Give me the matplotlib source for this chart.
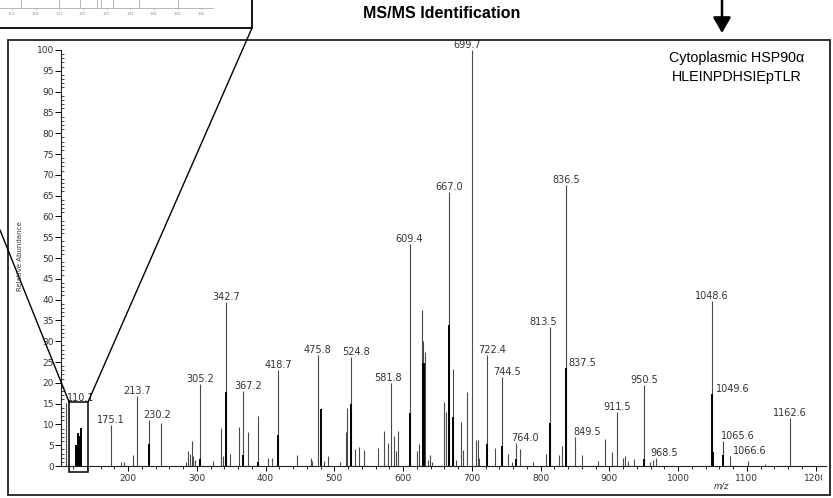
import matplotlib
matplotlib.use('Agg')
import matplotlib.pyplot as plt
from matplotlib.patches import Rectangle, ConnectionPatch
from matplotlib.ticker import MultipleLocator
from matplotlib.transforms import Bbox

# thin grey sticks (m/z, relative abundance)
peak_mz = [110.1, 175.1, 189.4, 194.0, 207.8, 213.7, 230.2, 248.0, 284.4, 287.8,
           290.0, 292.6, 295.0, 297.5, 305.2, 323.0, 335.3, 338.7, 341.0, 342.7,
           348.4, 361.9, 367.2, 375.0, 389.5, 404.0, 409.0, 418.7, 446.0, 466.0,
           468.0, 475.8, 485.0, 490.4, 508.4, 516.6, 518.0, 524.8, 530.0, 536.0,
           543.0, 564.0, 572.4, 578.7, 581.8, 587.0, 589.8, 593.3, 609.4, 620.0,
           622.5, 627.2, 629.6, 632.0, 636.8, 639.0, 642.7, 660.0, 662.0, 667.0,
           672.2, 676.6, 684.4, 687.7, 693.0, 699.7, 705.7, 708.6, 710.5, 722.4,
           734.0, 744.5, 752.3, 758.0, 764.0, 770.0, 789.6, 808.0, 813.5, 827.4,
           830.8, 836.5, 849.5, 860.4, 884.0, 893.8, 903.5, 911.5, 920.4, 923.0,
           926.8, 936.0, 950.5, 959.3, 963.0, 968.5, 1048.6, 1065.6, 1074.7, 1102.0,
           1126.5, 1162.6]
peak_int = [15.2, 9.9, 1.0, 1.0, 2.6, 16.8, 11.0, 10.3, 1.0, 3.5,
            3.0, 6.0, 2.4, 1.5, 19.7, 1.2, 9.2, 2.4, 2.4, 39.4,
            2.9, 9.3, 18.0, 8.1, 11.9, 2.0, 2.0, 23.0, 2.6, 1.9,
            1.2, 26.7, 1.2, 2.4, 1.0, 8.1, 13.9, 26.2, 4.1, 4.6,
            3.8, 4.4, 8.5, 5.6, 20.0, 7.2, 3.7, 8.5, 53.3, 3.7,
            5.2, 37.5, 30.1, 27.3, 1.4, 2.6, 1.0, 15.4, 12.9, 65.8,
            23.2, 1.4, 10.6, 3.8, 17.9, 100.0, 6.2, 6.2, 1.9, 26.7,
            4.4, 21.3, 2.8, 1.0, 5.5, 4.2, 1.0, 2.8, 33.3, 2.7,
            4.8, 67.5, 6.9, 2.6, 1.3, 6.4, 3.3, 12.9, 2.0, 2.3,
            1.2, 1.6, 19.5, 1.0, 1.4, 2.0, 39.7, 5.9, 2.3, 1.2,
            0.5, 11.6]

# heavy black sticks
dark_mz = [124.8, 125.6, 126.4, 126.8, 127.6, 128.4, 129.2, 130.0, 131.1,
           230.2, 305.2, 342.7, 367.2, 389.5, 418.7, 480.0, 524.8, 609.4,
           628.4, 629.4, 630.4, 667.0, 672.2, 722.4, 744.5, 764.0, 813.5,
           837.5, 950.5, 1049.6, 1051.0, 1065.6]
dark_int = [5.0, 5.0, 5.0, 8.0, 5.0, 5.0, 7.2, 5.0, 9.2,
            5.3, 1.7, 17.9, 2.7, 1.0, 7.5, 13.6, 15.0, 12.7,
            24.7, 24.7, 24.7, 33.9, 11.7, 5.3, 4.9, 1.6, 10.3,
            23.5, 1.6, 17.2, 3.4, 2.6]

# labelled peaks: position of the stick and the printed text
label_mz = [110.1, 175.1, 213.7, 230.2, 305.2, 342.7, 367.2, 418.7, 475.8, 524.8,
            581.8, 609.4, 667.0, 699.7, 722.4, 744.5, 764.0, 813.5, 836.5, 837.5,
            849.5, 911.5, 950.5, 968.5, 1048.6, 1049.6, 1065.6, 1074.7, 1162.6]
label_text = ['110.1', '175.1', '213.7', '230.2', '305.2', '342.7', '367.2', '418.7',
              '475.8', '524.8', '581.8', '609.4', '667.0', '699.7', '722.4', '744.5',
              '764.0', '813.5', '836.5', '837.5', '849.5', '911.5', '950.5', '968.5',
              '1048.6', '1049.6', '1065.6', '1066.6', '1162.6']

# inset (zoomed view, cut off at top of the figure)
inset_ticks = [114, 118, 122, 126, 130, 134, 138, 142, 146]
inset_mz = [115.5, 122.0, 125.6, 128.4, 129.0, 131.1, 135.5, 142.0]
inset_int = [60, 60, 30, 60, 80, 40, 60, 60]

W, H = 833, 498
fig = plt.figure(figsize=(W / 100, H / 100), dpi=100)

ax = fig.add_axes([61 / W, (H - 466) / H, 765 / W, 416 / H])
ax.vlines(peak_mz, 0, peak_int, color='#4a4a4a', lw=0.8)
ax.vlines(dark_mz, 0, dark_int, color='black', lw=1.4)
ax.set_xlim(102.5, 1215)
ax.set_ylim(0, 100)

for s in ['top', 'right']:
    ax.spines[s].set_visible(False)
for s in ['left', 'bottom']:
    ax.spines[s].set_linewidth(0.8)
    ax.spines[s].set_color('#222222')

ax.xaxis.set_minor_locator(MultipleLocator(20))
ax.yaxis.set_major_locator(MultipleLocator(5))
ax.yaxis.set_minor_locator(MultipleLocator(1))
ax.tick_params(axis='x', which='major', direction='out', length=3.5, width=0.7,
               labelsize=6.5, labelcolor='#333333', pad=2)
ax.tick_params(axis='x', which='minor', direction='out', length=2.2, width=0.6)
ax.tick_params(axis='y', which='major', direction='out', length=4, width=0.7,
               labelsize=6.5, labelcolor='#333333', pad=1)
ax.tick_params(axis='y', which='minor', direction='in', length=2.5, width=0.5)
ax.set_xticks(range(200, 1201, 100))
ax.set_xticklabels([str(v) for v in range(200, 1201, 100)])
# the last label is cut by the panel frame
for lab in ax.get_xticklabels():
    lab.set_clip_box(Bbox.from_extents(0, 0, 822, H))
    lab.set_clip_on(True)

# peak labels
heights = dict(zip(peak_mz, peak_int))
for m, v in zip(dark_mz, dark_int):
    heights.setdefault(m, v)
nudge = {'110.1': (1, 'left'), '230.2': (8, 'center'), '367.2': (5, 'center'),
         '524.8': (5, 'center'), '581.8': (-3, 'center'), '699.7': (-4, 'center'),
         '722.4': (5, 'center'), '744.5': (5, 'center'), '764.0': (9, 'center'),
         '813.5': (-7, 'center'), '837.5': (2, 'left'), '849.5': (13, 'center'),
         '968.5': (8, 'center'), '1049.6': (4, 'left'), '1065.6': (15, 'center'),
         '1066.6': (20, 'center')}
for m, t in zip(label_mz, label_text):
    dx, ha = nudge.get(t, (0, 'center'))
    ax.annotate(t, (m, heights[m]), xytext=(dx, 5), textcoords='offset pixels',
                ha=ha, va='center', fontsize=7, color='#333333',
                annotation_clip=False)

# zoom box around the low-mass cluster
ax.add_patch(Rectangle((114.2, -1.4), 27.6, 16.8, fill=False, lw=1.1,
                       ec='black', clip_on=False, zorder=5))

fig.text(20 / W, 1 - 256 / H, 'Relative Abundance', rotation=90, fontsize=5,
         ha='center', va='center', color='#333333')
fig.text(721 / W, 1 - 486 / H, 'm/z', fontsize=6, style='italic',
         ha='center', va='center', color='#333333')

sans = ['Liberation Sans', 'DejaVu Sans']
fig.text(442 / W, 1 - 14 / H, 'MS/MS Identification', family=sans,
         fontsize=11.5, fontweight='bold', ha='center', va='center')
fig.text(737 / W, 1 - 58 / H, 'Cytoplasmic HSP90\u03b1', family=sans,
         fontsize=10.3, ha='center', va='center')
fig.text(737 / W, 1 - 77 / H, 'HLEINPDHSIEpTLR', family=sans,
         fontsize=10.3, ha='center', va='center')

# outer frame of the spectrum panel
fig.add_artist(Rectangle((8, H - 495), 822, 455, transform=None, fill=False,
                         lw=1.3, ec='#222222'))

# inset, mostly outside the figure
axi = fig.add_axes([0, (H - 8.5) / H, 213 / W, 0.1])
axi.vlines(inset_mz, 0, inset_int, color='#aaaaaa', lw=0.6)
axi.set_xlim(112, 148)
axi.set_ylim(0, 100)
axi.set_xticks(inset_ticks)
axi.set_xticklabels([str(v) for v in inset_ticks])
axi.tick_params(axis='x', length=1.5, width=0.4, labelsize=3, labelcolor='#999999',
                color='#999999', pad=1)
axi.set_yticks([])
for s in ['top', 'right', 'left']:
    axi.spines[s].set_visible(False)
axi.spines['bottom'].set_color('#999999')
axi.spines['bottom'].set_linewidth(0.5)
fig.add_artist(Rectangle((-3, H - 28), 255, 31, transform=None, fill=False,
                         lw=1.3, ec='black'))

# lines linking the zoom box to the inset
for pa, pb in [((252, H - 28), (141.8, 15.4)), ((0, H - 230), (114.2, 15.4))]:
    fig.add_artist(ConnectionPatch(pa, pb, coordsA='figure pixels', coordsB='data',
                                   axesB=ax, lw=1.0, color='black'))

# arrow pointing down at the annotation
ax.annotate('', xy=(722, H - 33), xytext=(722, H + 2), xycoords='figure pixels',
            textcoords='figure pixels', annotation_clip=False,
            arrowprops=dict(arrowstyle='-|>,head_length=0.47,head_width=0.27',
                            mutation_scale=20, lw=1.8, color='black',
                            shrinkA=0, shrinkB=0))

fig.savefig('out.png', dpi=100)
